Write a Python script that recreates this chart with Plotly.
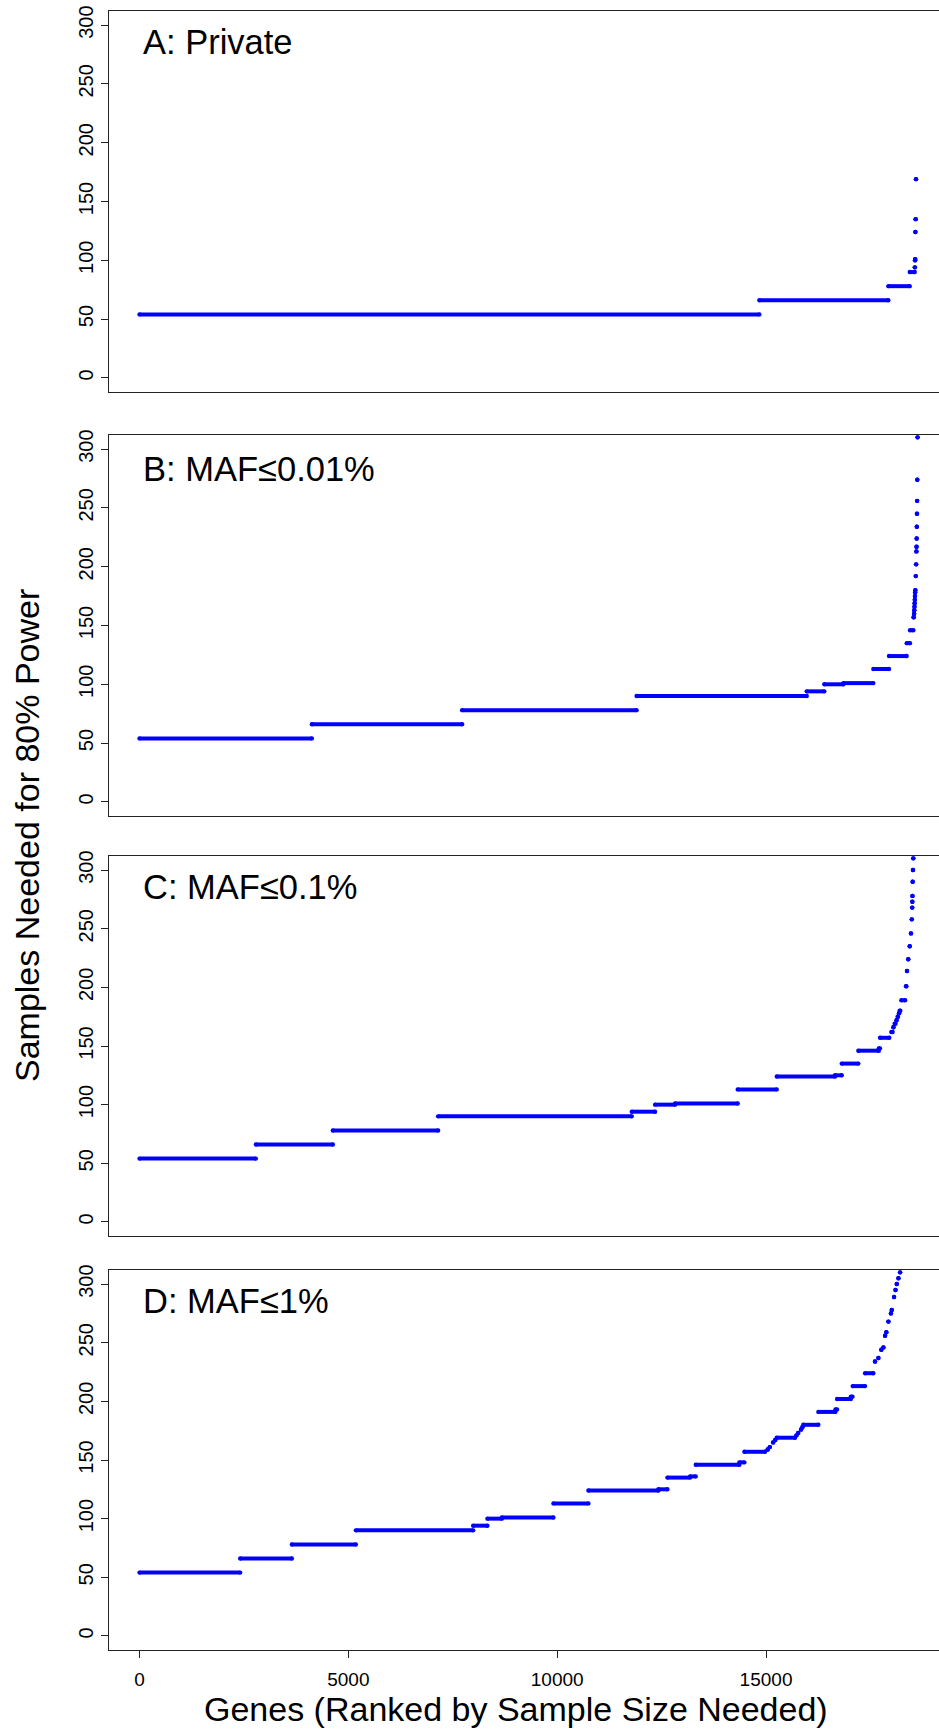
import plotly.graph_objects as go

# ---------------------------------------------------------------
# Samples needed for 80% power, genes ranked by sample size.
# Each panel is stored as runs of consecutive ranks that share
# the same required sample size: first rank, last rank, samples.
# ---------------------------------------------------------------

PANEL_TITLES = ["A: Private", "B: MAF\u22640.01%", "C: MAF\u22640.1%", "D: MAF\u22641%"]

A_FIRST = [1, 14841, 17928, 18441, 18562, 18568, 18570, 18576, 18582, 18590]
A_LAST = [14840, 17927, 18440, 18560, 18562, 18568, 18572, 18576, 18582, 18590]
A_SAMPLES = [54, 66, 78, 90, 94, 100, 101, 124, 135, 169]

B_FIRST = [1, 4127, 7725, 11901, 15975, 16396, 16851, 17569, 17945, 18368, 18447,
           18530, 18545, 18550, 18554, 18558, 18562, 18566, 18570, 18574, 18585,
           18594, 18600, 18603, 18606, 18610, 18614, 18618, 18622, 18628]
B_LAST = [4126, 7724, 11900, 15974, 16395, 16850, 17568, 17944, 18367, 18446, 18526,
          18540, 18545, 18550, 18554, 18558, 18562, 18566, 18570, 18574, 18585,
          18594, 18600, 18603, 18606, 18610, 18614, 18618, 18622, 18628]
B_SAMPLES = [54, 66, 78, 90, 94, 100, 101, 113, 124, 135, 146,
             157, 160, 163, 166, 169, 172, 175, 178, 180, 192,
             202, 213, 217, 224, 234, 245, 256, 274, 310]

C_FIRST = [1, 2787, 4630, 7150, 11786, 12344, 12823, 14323, 15257, 16652, 16813,
           17210, 17701, 17729, 18000, 18050, 18080, 18125, 18150, 18185, 18200,
           18240, 18350, 18375, 18405, 18440, 18470, 18490, 18500, 18503, 18506,
           18510, 18518, 18526]
C_LAST = [2786, 4629, 7149, 11785, 12343, 12822, 14322, 15256, 16651, 16812, 17209,
          17700, 17728, 17951, 18030, 18050, 18100, 18125, 18160, 18185, 18215,
          18330, 18360, 18375, 18405, 18440, 18470, 18490, 18500, 18503, 18506,
          18510, 18518, 18526]
C_SAMPLES = [54, 66, 78, 90, 94, 100, 101, 113, 124, 125, 135,
             146, 148, 157, 162, 166, 169, 172, 175, 178, 180,
             189, 201, 214, 224, 235, 246, 258, 268, 273, 278,
             290, 300, 310]

D_FIRST = [1, 2411, 3649, 5181, 7989, 8330, 8675, 9910, 10748, 12423, 12639,
           13182, 13318, 14362, 14482, 15040, 15090, 15170, 15220, 15256, 15730,
           15770, 15840, 15870, 15893, 16253, 16661, 16701, 17031, 17075, 17371,
           17610, 17690, 17760, 17810, 17850, 17880, 17930, 17990, 18010, 18065,
           18100, 18130, 18170, 18210]
D_LAST = [2410, 3648, 5180, 7988, 8329, 8674, 9909, 10747, 12422, 12638, 13181,
          13317, 14361, 14481, 14976, 15040, 15090, 15170, 15220, 15694, 15730,
          15770, 15840, 15870, 16252, 16660, 16700, 17030, 17070, 17370, 17568,
          17610, 17690, 17760, 17810, 17850, 17880, 17930, 17990, 18010, 18065,
          18100, 18130, 18170, 18210]
D_SAMPLES = [54, 66, 78, 90, 94, 100, 101, 113, 124, 125, 135,
             136, 146, 148, 157, 159, 161, 165, 167, 169, 171,
             173, 176, 178, 180, 191, 193, 202, 204, 213, 224,
             234, 237, 244, 246, 256, 259, 268, 275, 278, 289,
             295, 300, 305, 310]

X_TICKS = [0, 5000, 10000, 15000]
Y_TICKS = [0, 50, 100, 150, 200, 250, 300]

PANELS = [
    (A_FIRST, A_LAST, A_SAMPLES),
    (B_FIRST, B_LAST, B_SAMPLES),
    (C_FIRST, C_LAST, C_SAMPLES),
    (D_FIRST, D_LAST, D_SAMPLES),
]

# ---------------------------------------------------------------
# Page geometry (pixels)
# ---------------------------------------------------------------
W, H = 939, 1731
FONT = "Liberation Sans, Arial, Helvetica, sans-serif"
BLUE = "#0000ff"
AXIS_COLOR = "#222222"
PLOT_LEFT = 108.7
PANEL_TOP = [11, 435, 856, 1270]
PANEL_BOTTOM = [392, 816, 1236, 1650]
X_RANGE = [-737, 19141]
Y_RANGE = [-12, 312]


def px_x(p):
    return p / W


def px_y(p):
    return 1 - p / H


fig = go.Figure()

for i, (first, last, samples) in enumerate(PANELS):
    xs, ys = [], []
    for a, b, v in zip(first, last, samples):
        xs += [a, b, None]
        ys += [v, v, None]
    fig.add_trace(go.Scatter(
        x=xs, y=ys,
        mode="lines+markers",
        line=dict(color=BLUE, width=4),
        marker=dict(color=BLUE, size=4.4),
        xaxis="x" if i == 0 else f"x{i+1}",
        yaxis="y" if i == 0 else f"y{i+1}",
        showlegend=False,
        hoverinfo="skip",
    ))

layout = dict(
    width=W, height=H,
    margin=dict(l=0, r=0, t=0, b=0),
    paper_bgcolor="white",
    plot_bgcolor="white",
    template="none",
    font=dict(family=FONT, color="black"),
    showlegend=False,
)

for i in range(4):
    xa = "xaxis" if i == 0 else f"xaxis{i+1}"
    ya = "yaxis" if i == 0 else f"yaxis{i+1}"
    xref = "x" if i == 0 else f"x{i+1}"
    yref = "y" if i == 0 else f"y{i+1}"
    last = i == 3
    layout[xa] = dict(
        domain=[px_x(PLOT_LEFT), 1],
        range=X_RANGE,
        anchor=yref,
        showline=True, linecolor=AXIS_COLOR, linewidth=1.3, mirror=True,
        showgrid=False, zeroline=False,
        ticks="outside" if last else "",
        ticklen=7, tickwidth=1.2, tickcolor=AXIS_COLOR,
        tickvals=X_TICKS if last else [],
        ticktext=[str(t) for t in X_TICKS] if last else [],
        showticklabels=last,
        ticklabelstandoff=5,
        tickfont=dict(size=19, family=FONT, color="black"),
    )
    layout[ya] = dict(
        domain=[px_y(PANEL_BOTTOM[i]), px_y(PANEL_TOP[i])],
        range=Y_RANGE,
        anchor=xref,
        showline=True, linecolor=AXIS_COLOR, linewidth=1.3, mirror=False,
        showgrid=False, zeroline=False,
        ticks="outside", ticklen=7, tickwidth=1.2, tickcolor=AXIS_COLOR,
        tickvals=Y_TICKS, ticktext=[str(t) for t in Y_TICKS],
        tickangle=-90,
        tickfont=dict(size=20, family=FONT, color="black"),
    )

fig.update_layout(**layout)

annotations = []
label_centers = [42.2, 468.8, 887.5, 1300.5]
for title, yc in zip(PANEL_TITLES, label_centers):
    annotations.append(dict(
        text=title, xref="paper", yref="paper",
        x=px_x(141), y=px_y(yc), xanchor="left", yanchor="middle",
        showarrow=False, font=dict(size=34.5, family=FONT, color="black"),
    ))

annotations.append(dict(
    text="Samples Needed for 80% Power", xref="paper", yref="paper",
    x=px_x(27), y=px_y(836), xanchor="center", yanchor="middle",
    textangle=-90, showarrow=False,
    font=dict(size=34, family=FONT, color="black"),
))
annotations.append(dict(
    text="Genes (Ranked by Sample Size Needed)", xref="paper", yref="paper",
    x=px_x(516), y=px_y(1709), xanchor="center", yanchor="middle",
    showarrow=False, font=dict(size=34, family=FONT, color="black"),
))
fig.update_layout(annotations=annotations)

fig.write_html("out.html")
